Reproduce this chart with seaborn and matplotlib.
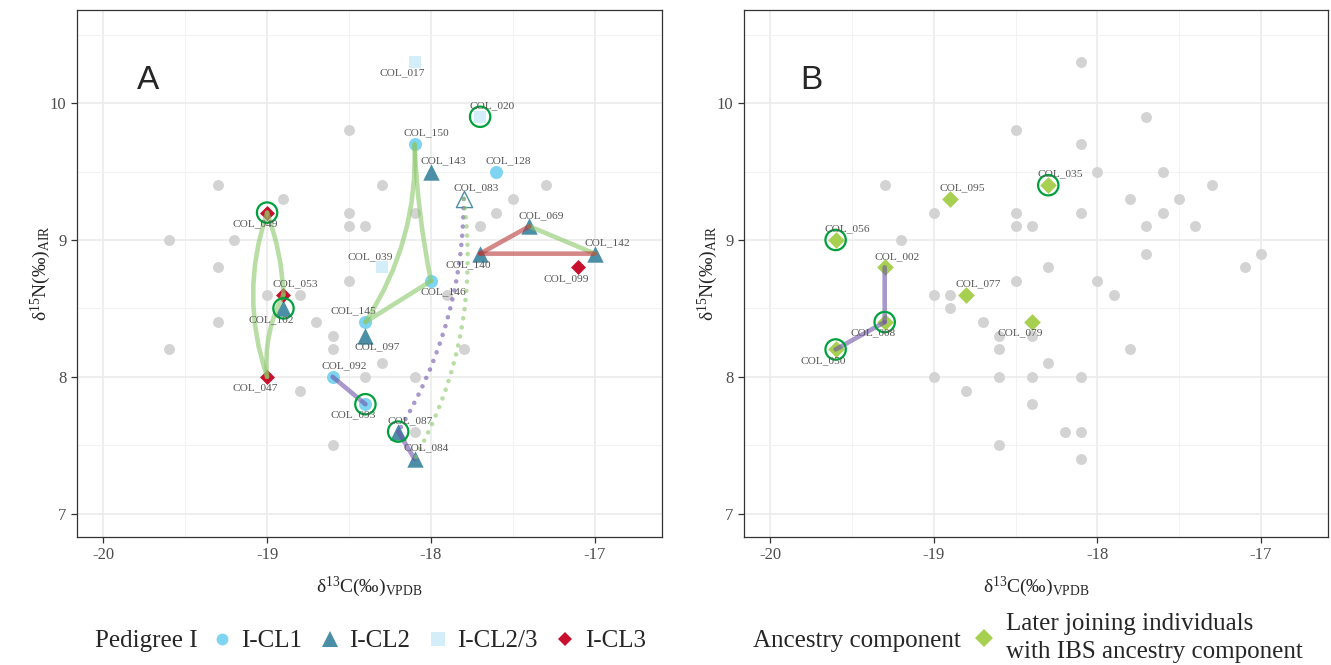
import numpy as np
import pandas as pd
import matplotlib
matplotlib.use("Agg")
import matplotlib.pyplot as plt
import seaborn as sns
from matplotlib.patches import FancyArrowPatch
from matplotlib.lines import Line2D
from matplotlib.ticker import MultipleLocator

# ---------------- data ----------------
names = ["COL_017", "COL_020", "COL_150", "COL_143", "COL_128", "COL_083", "COL_069",
         "COL_049", "COL_140", "COL_142", "COL_099", "COL_039", "COL_146", "COL_053",
         "COL_102", "COL_145", "COL_097", "COL_092", "COL_047", "COL_093", "COL_087",
         "COL_084", "COL_056", "COL_002", "COL_008", "COL_050", "COL_095", "COL_077",
         "COL_079", "COL_035",
         "", "", "", "", "", "", "", "", "", "", "", "", "", "", "", "", "", "", "", "",
         "", "", "", ""]
d13C = [-18.1, -17.7, -18.1, -18.0, -17.6, -17.8, -17.4,
        -19.0, -17.7, -17.0, -17.1, -18.3, -18.0, -18.9,
        -18.9, -18.4, -18.4, -18.6, -19.0, -18.4, -18.2,
        -18.1, -19.6, -19.3, -19.3, -19.6, -18.9, -18.8,
        -18.4, -18.3,
        -18.5, -19.3, -17.3, -17.5, -17.6, -18.5, -18.1, -18.5, -18.4, -17.7,
        -19.2, -18.5, -17.9, -19.0, -18.7, -18.6, -18.6, -17.8, -18.3, -18.4,
        -18.1, -18.8, -18.1, -18.6]
d15N = [10.3, 9.9, 9.7, 9.5, 9.5, 9.3, 9.1,
        9.2, 8.9, 8.9, 8.8, 8.8, 8.7, 8.6,
        8.5, 8.4, 8.3, 8.0, 8.0, 7.8, 7.6,
        7.4, 9.0, 8.8, 8.4, 8.2, 9.3, 8.6,
        8.4, 9.4,
        9.8, 9.4, 9.4, 9.3, 9.2, 9.2, 9.2, 9.1, 9.1, 9.1,
        9.0, 8.7, 8.6, 8.6, 8.4, 8.3, 8.2, 8.2, 8.1, 8.0,
        8.0, 7.9, 7.6, 7.5]

# Panel A : Pedigree I
a_ids = ["COL_017", "COL_020", "COL_039",
         "COL_150", "COL_128", "COL_146", "COL_145", "COL_092", "COL_093",
         "COL_143", "COL_083", "COL_069", "COL_140", "COL_142", "COL_102", "COL_097",
         "COL_087", "COL_084",
         "COL_049", "COL_053", "COL_047", "COL_099"]
a_group = ["I-CL2/3", "I-CL2/3", "I-CL2/3",
           "I-CL1", "I-CL1", "I-CL1", "I-CL1", "I-CL1", "I-CL1",
           "I-CL2", "I-CL2", "I-CL2", "I-CL2", "I-CL2", "I-CL2", "I-CL2",
           "I-CL2", "I-CL2",
           "I-CL3", "I-CL3", "I-CL3", "I-CL3"]
a_ring = ["COL_020", "COL_049", "COL_102", "COL_093", "COL_087"]
a_open = ["COL_083"]
a_edges = [("COL_049", "COL_047", "green"), ("COL_049", "COL_053", "green"),
           ("COL_053", "COL_047", "green"), ("COL_150", "COL_145", "green"),
           ("COL_150", "COL_146", "green"), ("COL_146", "COL_145", "green"),
           ("COL_069", "COL_142", "green"), ("COL_140", "COL_069", "red"),
           ("COL_140", "COL_142", "red"), ("COL_092", "COL_093", "purple"),
           ("COL_087", "COL_084", "purple"), ("COL_083", "COL_087", "purple_dot"),
           ("COL_083", "COL_084", "green_dot")]

# Panel B : ancestry component
b_ids = ["COL_056", "COL_002", "COL_008", "COL_050", "COL_095", "COL_077", "COL_079", "COL_035"]
b_ring = ["COL_056", "COL_008", "COL_050", "COL_035"]
b_edges = [("COL_002", "COL_008", "purple"), ("COL_008", "COL_050", "purple")]

groups = ["I-CL1", "I-CL2", "I-CL2/3", "I-CL3"]
x_ticks = [-20, -19, -18, -17]
y_ticks = [7, 8, 9, 10]

# ---------------- styles ----------------
edge_rad = {("COL_049", "COL_047"): 0.17, ("COL_049", "COL_053"): -0.08,
            ("COL_053", "COL_047"): 0.15, ("COL_150", "COL_145"): -0.16,
            ("COL_150", "COL_146"): 0.04, ("COL_083", "COL_087"): -0.14,
            ("COL_083", "COL_084"): -0.166}
label_dir = {"COL_017": "dl", "COL_020": "ur", "COL_150": "ur", "COL_143": "ur",
             "COL_128": "ur", "COL_083": "ur", "COL_069": "ur", "COL_140": "dl",
             "COL_142": "ur", "COL_099": "dl", "COL_039": "ul", "COL_146": "dr",
             "COL_049": "dl", "COL_053": "ur", "COL_102": "dl", "COL_047": "dl",
             "COL_092": "ur", "COL_093": "dl", "COL_145": "ul", "COL_097": "dr",
             "COL_087": "ur", "COL_084": "ur",
             "COL_056": "ur", "COL_095": "ur", "COL_002": "ur", "COL_077": "ur",
             "COL_079": "dl", "COL_008": "dl", "COL_050": "dl", "COL_035": "ur"}
dir_off = {"ur": (12, 11), "ul": (-12, 11), "dl": (-12, -11), "dr": (12, -11)}

pal = {"I-CL1": "#7FD4F1", "I-CL2": "#4B8FA6", "I-CL2/3": "#D3EEF8", "I-CL3": "#C8102E"}
mk = {"I-CL1": "o", "I-CL2": "^", "I-CL2/3": "s", "I-CL3": "D"}
msize = {"I-CL1": 88, "I-CL2": 140, "I-CL2/3": 80, "I-CL3": 58}
edge_col = {"green": "#8BC86A", "red": "#B93939", "purple": "#6E53AA",
            "green_dot": "#8BC86A", "purple_dot": "#6E53AA"}
gray = "#D3D3D3"
ring_col = "#00A13D"
anc_col = "#A7CF50"
serif = "Liberation Serif"

sns.set_style("white")
plt.rcParams["font.family"] = [serif, "DejaVu Serif"]
plt.rcParams["mathtext.fontset"] = "custom"
plt.rcParams["mathtext.rm"] = serif
plt.rcParams["mathtext.it"] = serif + ":italic"

df = pd.DataFrame({"name": names, "x": d13C, "y": d15N})
pos = {n: (x, y) for n, x, y in zip(names, d13C, d15N) if n}

fig = plt.figure(figsize=(13.31, 6.65), dpi=100)
axA = fig.add_axes([77 / 1331, 1 - 537 / 665, 585 / 1331, 527 / 665])
axB = fig.add_axes([744 / 1331, 1 - 537 / 665, 584 / 1331, 527 / 665])


def setup(ax, letter, lx):
    ax.set_xlim(-20.16, -16.59)
    ax.set_ylim(6.83, 10.68)
    ax.set_xticks(x_ticks)
    ax.set_yticks(y_ticks)
    ax.xaxis.set_minor_locator(MultipleLocator(0.5))
    ax.yaxis.set_minor_locator(MultipleLocator(0.5))
    ax.grid(True, which="major", color="#EBEBEB", lw=1.2, zorder=0)
    ax.grid(True, which="minor", color="#F2F2F2", lw=0.7, zorder=0)
    ax.set_axisbelow(True)
    for s in ax.spines.values():
        s.set_color("#333333")
        s.set_linewidth(0.9)
    ax.tick_params(which="major", direction="out", length=4, width=0.9, color="#333333",
                   labelsize=12, labelcolor="#4D4D4D", bottom=True, left=True)
    ax.tick_params(which="minor", length=0)
    ax.set_xticklabels([str(t) for t in x_ticks])
    ax.set_xlabel("δ$^{13}$C(‰)$_{\\mathrm{VPDB}}$", fontsize=14, labelpad=8)
    ax.set_ylabel("δ$^{15}$N(‰)$_{\\mathrm{AIR}}$", fontsize=14, labelpad=-2)
    ax.text(lx, 0.867, letter, transform=ax.transAxes, fontsize=24,
            family="Liberation Sans", ha="center", va="center")


def draw_edges(ax, edges):
    for a, b, kind in edges:
        rad = edge_rad.get((a, b), 0.0)
        ls = (0, (0.01, 2.0)) if kind.endswith("dot") else "-"
        p = FancyArrowPatch(posA=pos[a], posB=pos[b], arrowstyle="-",
                            connectionstyle=f"arc3,rad={rad}", color=edge_col[kind],
                            lw=3.3, alpha=0.6, linestyle=ls, shrinkA=0, shrinkB=0,
                            zorder=5)
        p.set_capstyle("round")
        ax.add_patch(p)


def draw_labels(ax, ids):
    for n in ids:
        dx, dy = dir_off[label_dir[n]]
        ax.annotate(n, pos[n], xytext=(dx, dy), textcoords="offset pixels",
                    ha="center", va="center", fontsize=8.2, color="#555555", zorder=8)


# ---------- Panel A ----------
setup(axA, "A", 0.121)
gA = df[~df["name"].isin(a_ids)]
sns.scatterplot(data=gA, x="x", y="y", ax=axA, color=gray, s=62, linewidth=0, zorder=2,
                legend=False)
adf = pd.DataFrame({"name": a_ids, "group": a_group})
adf["x"] = [pos[n][0] for n in a_ids]
adf["y"] = [pos[n][1] for n in a_ids]
for g in groups:
    sub = adf[(adf["group"] == g) & (~adf["name"].isin(a_open))]
    sns.scatterplot(data=sub, x="x", y="y", ax=axA, color=pal[g], marker=mk[g],
                    s=msize[g], linewidth=0, zorder=3, legend=False)
op = adf[adf["name"].isin(a_open)]
axA.scatter(op["x"], op["y"], marker="^", s=135, facecolor="white",
            edgecolor=pal["I-CL2"], linewidth=1.0, zorder=3)
draw_edges(axA, a_edges)
rg = adf[adf["name"].isin(a_ring)]
axA.scatter(rg["x"], rg["y"], marker="o", s=215, facecolor="none", edgecolor=ring_col,
            linewidth=1.6, zorder=6)
draw_labels(axA, a_ids)

# ---------- Panel B ----------
setup(axB, "B", 0.116)
gB = df[~df["name"].isin(b_ids)]
sns.scatterplot(data=gB, x="x", y="y", ax=axB, color=gray, s=62, linewidth=0, zorder=2,
                legend=False)
bdf = pd.DataFrame({"name": b_ids})
bdf["x"] = [pos[n][0] for n in b_ids]
bdf["y"] = [pos[n][1] for n in b_ids]
sns.scatterplot(data=bdf, x="x", y="y", ax=axB, color=anc_col, marker="D", s=72,
                linewidth=0, zorder=3, legend=False)
draw_edges(axB, b_edges)
rb = bdf[bdf["name"].isin(b_ring)]
axB.scatter(rb["x"], rb["y"], marker="o", s=215, facecolor="none", edgecolor=ring_col,
            linewidth=1.6, zorder=6)
draw_labels(axB, b_ids)

# ---------- Legends ----------
yl = 1 - 641 / 665
fig.text(198 / 1331, yl, "Pedigree I", ha="right", va="center", fontsize=18)
hA = [Line2D([], [], ls="", marker=mk[g], color=pal[g],
             markersize={"I-CL1": 8.5, "I-CL2": 12, "I-CL2/3": 10, "I-CL3": 7.5}[g],
             markeredgewidth=0) for g in groups]
fig.legend(hA, groups, loc="center left", bbox_to_anchor=(209 / 1331, yl), ncol=4,
           frameon=False, fontsize=18, handlelength=1.0, handletextpad=0.3,
           columnspacing=0.58, borderpad=0, borderaxespad=0)

fig.text(961 / 1331, yl, "Ancestry component", ha="right", va="center", fontsize=18)
hB = [Line2D([], [], ls="", marker="D", color=anc_col, markersize=9, markeredgewidth=0)]
legB = fig.legend(hB, ["Later joining individuals\nwith IBS ancestry component"],
                  loc="center left", bbox_to_anchor=(971 / 1331, 1 - 638 / 665),
                  frameon=False, fontsize=18, handlelength=1.0, handletextpad=0.4,
                  borderpad=0, borderaxespad=0, labelspacing=0)
for t in legB.get_texts():
    t.set_linespacing(1.4)

fig.savefig("out.png", dpi=100)
